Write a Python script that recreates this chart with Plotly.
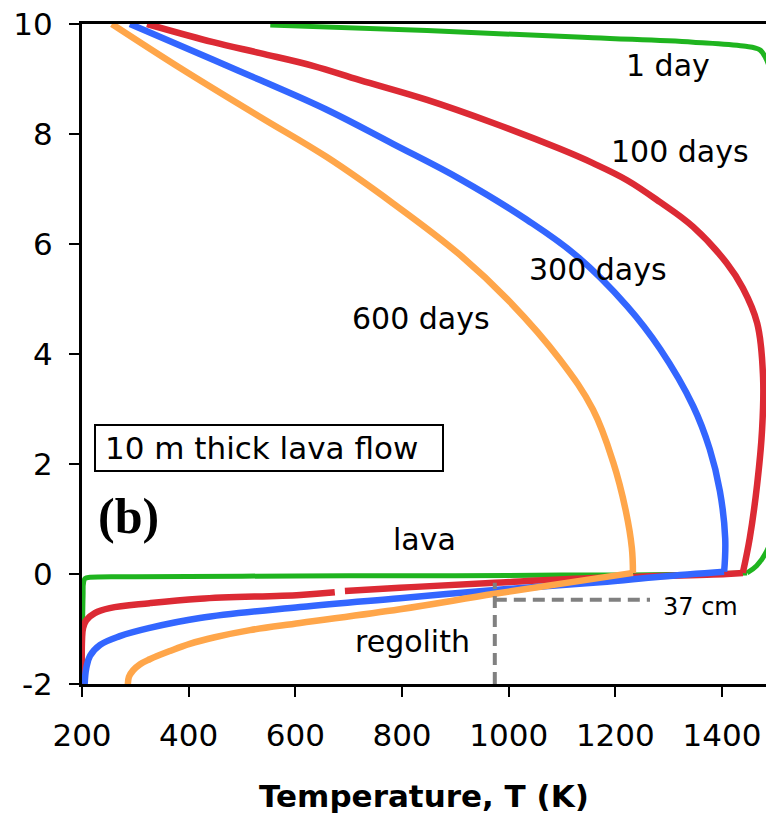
import plotly.graph_objects as go

# ---- data (temperature K, depth m) ----
# 1 day
day1_up_T = [553, 847, 1158, 1346, 1440, 1471, 1483, 1495, 1505, 1505, 1495, 1483, 1465, 1447]
day1_up_z = [9.98, 9.88, 9.75, 9.67, 9.6, 9.53, 9.36, 9.0, 8.3, 1.2, 0.7, 0.4, 0.15, 0.02]
day1_lo_T = [1447, 1300, 1100, 900, 700, 500, 300, 215, 206, 203, 202, 201, 200]
day1_lo_z = [0.02, -0.01, -0.02, -0.03, -0.03, -0.04, -0.05, -0.06, -0.08, -0.15, -0.4, -1.0, -2.0]

# 100 days
day100_up_T = [322, 446, 534, 633, 721, 847, 971, 1096, 1158, 1222, 1284, 1346, 1409, 1439,
               1466, 1477, 1475, 1466, 1452, 1439]
day100_up_z = [10.0, 9.67, 9.47, 9.24, 8.98, 8.62, 8.2, 7.73, 7.47, 7.16, 6.76, 6.31, 5.65, 5.2,
               4.56, 3.58, 2.6, 1.64, 0.65, 0.02]
day100_lo_T = [1439, 1409, 1171, 974, 796, 693, None, 674, 609, 421, 327, 252, 224, 208, 202,
               200, 200]
day100_lo_z = [0.02, 0.0, -0.07, -0.16, -0.25, -0.31, None, -0.33, -0.38, -0.45, -0.53, -0.62,
               -0.71, -0.84, -0.98, -1.2, -2.0]

# 300 days
day300_up_T = [290, 446, 534, 659, 783, 909, 1034, 1128, 1222, 1284, 1346, 1377, 1396, 1406, 1404]
day300_up_z = [10.0, 9.35, 8.98, 8.44, 7.82, 7.18, 6.44, 5.78, 4.87, 4.09, 3.05, 2.27, 1.51, 0.65, 0.04]
day300_lo_T = [1404, 1284, 1171, 974, 796, 609, 421, 327, 271, 234, 215, 208, 205]
day300_lo_z = [0.04, -0.05, -0.15, -0.29, -0.44, -0.6, -0.8, -0.98, -1.13, -1.29, -1.49, -1.71, -2.0]

# 600 days
day600_up_T = [256, 384, 534, 659, 783, 909, 1003, 1096, 1158, 1196, 1220, 1231, 1233]
day600_up_z = [10.0, 9.2, 8.31, 7.58, 6.74, 5.8, 4.94, 3.9, 2.99, 2.03, 1.13, 0.47, 0.02]
day600_lo_T = [1233, 1171, 974, 796, 609, 515, 449, 402, 365, 327, 309, 296, 288, 286]
day600_lo_z = [0.02, -0.07, -0.36, -0.64, -0.89, -1.02, -1.15, -1.27, -1.4, -1.55, -1.64, -1.75,
               -1.87, -2.0]

marker_T = [974, 974, None, 974, 1265]
marker_z = [-2.0, -0.16, None, -0.47, -0.47]

x_ticks = [200, 400, 600, 800, 1000, 1200, 1400]
y_ticks = [-2, 0, 2, 4, 6, 8, 10]
y_ticktext = ["-2", "0", "2", "4", "6", "8", "10"]

labels = ["1 day", "100 days", "300 days", "600 days", "lava", "regolith"]
label_T = [1299, 1321, 1167, 836, 843, 819]
label_z = [9.24, 7.69, 5.53, 4.65, 0.62, -1.22]

FONT = "DejaVu Sans"

fig = go.Figure()
series = [
    (day1_up_T, day1_up_z, day1_lo_T, day1_lo_z, "#1fb41f", 5),
    (day100_up_T, day100_up_z, day100_lo_T, day100_lo_z, "#dc2a34", 6.5),
    (day300_up_T, day300_up_z, day300_lo_T, day300_lo_z, "#3366ff", 6.5),
    (day600_up_T, day600_up_z, day600_lo_T, day600_lo_z, "#ffa64a", 6.5),
]
for uT, uz, lT, lz, c, w in series:
    for T, z in ((lT, lz), (uT, uz)):
        fig.add_trace(go.Scatter(x=T, y=z, mode="lines",
                                 line=dict(color=c, width=w, shape="spline", smoothing=1.1),
                                 connectgaps=False, hoverinfo="skip"))
fig.add_trace(go.Scatter(x=marker_T, y=marker_z, mode="lines",
                         line=dict(color="#808080", width=4, dash="12px,7px"),
                         connectgaps=False, hoverinfo="skip"))

for t, x, y in zip(labels, label_T, label_z):
    fig.add_annotation(x=x, y=y, text=t, showarrow=False,
                       font=dict(family=FONT, size=30, color="black"))
fig.add_annotation(x=1359, y=-0.6, text="37 cm", showarrow=False,
                   font=dict(family=FONT, size=24, color="black"))

# label box "10 m thick lava flow"
fig.add_shape(type="rect", xref="paper", yref="paper",
              x0=13 / 684, x1=361 / 684, y0=(684 - 471) / 660, y1=(684 - 425) / 660,
              line=dict(color="black", width=2), fillcolor="white", layer="above")
fig.add_annotation(x=21 / 684, xref="paper", y=(684 - 448) / 660, yref="paper",
                   text="10 m thick lava flow", showarrow=False,
                   xanchor="left", yanchor="middle",
                   font=dict(family=FONT, size=31, color="black"))
fig.add_annotation(x=0.02, xref="paper", y=1.05, yref="y", text="<b>(b)</b>",
                   showarrow=False, xanchor="left", yanchor="middle",
                   font=dict(family="Liberation Serif", size=50, color="black"))

fig.update_layout(
    width=766, height=817,
    margin=dict(l=82, r=0, t=24, b=133),
    paper_bgcolor="white", plot_bgcolor="white",
    showlegend=False,
    xaxis=dict(range=[200, 1482.5], tickvals=x_ticks, ticks="outside", ticklen=10,
               tickwidth=1.5, tickcolor="black", showline=True, linecolor="black",
               linewidth=3, mirror=True, showgrid=False, zeroline=False,
               ticklabelstandoff=12,
               tickfont=dict(family=FONT, size=31, color="black"),
               title=dict(text="<b>Temperature, T (K)</b>", standoff=34,
                          font=dict(family=FONT, size=31, color="black"))),
    yaxis=dict(range=[-2, 10], tickvals=y_ticks, ticktext=y_ticktext, ticks="outside",
               ticklen=10, tickwidth=1.5, tickcolor="black", showline=True,
               linecolor="black", linewidth=3, showgrid=False, zeroline=False,
               ticklabelstandoff=10,
               tickfont=dict(family=FONT, size=31, color="black")),
)

fig.write_html("out.html")
